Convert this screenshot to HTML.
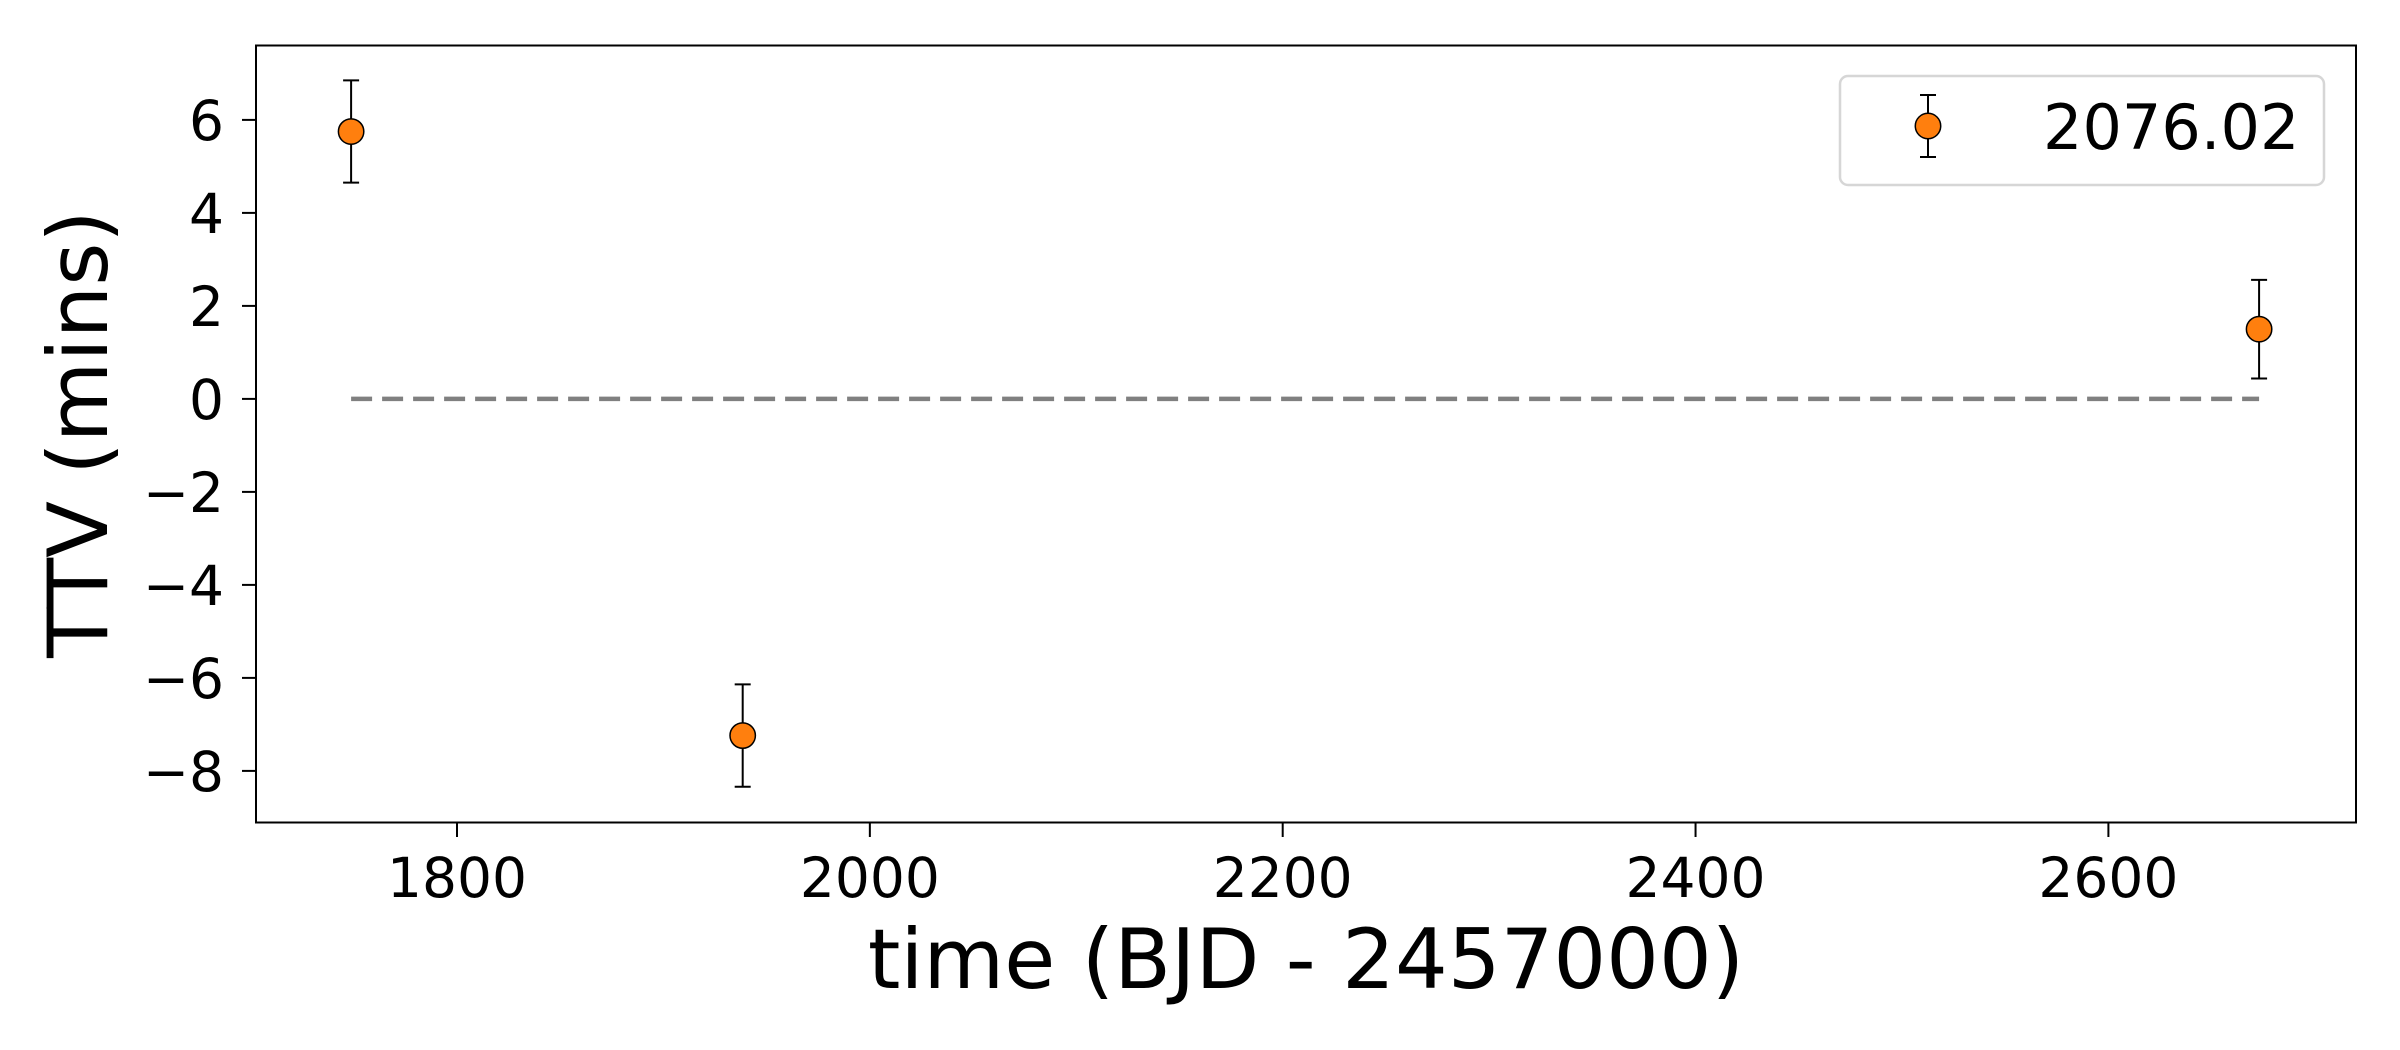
<!DOCTYPE html>
<html><head><meta charset="utf-8"><style>
html,body{margin:0;padding:0;background:#fff;}
svg{display:block;font-family:"DejaVu Sans","Liberation Sans",sans-serif;}
</style></head><body>
<svg id="chart" width="2400" height="1050" viewBox="0 0 2400 1050" xmlns="http://www.w3.org/2000/svg">
<rect x="0" y="0" width="2400" height="1050" fill="#fff"/>
<g id="axes"></g>
<g id="marks"></g>
<rect x="256" y="45.5" width="2100" height="777" fill="none" stroke="#000" stroke-width="2"/>
<g>
<rect x="1840" y="76" width="484" height="109" rx="8" fill="#fff" stroke="#d6d6d6" stroke-width="2.5"/>
<line x1="1928" y1="95" x2="1928" y2="157" stroke="#000" stroke-width="2"/>
<line x1="1920" y1="95" x2="1936" y2="95" stroke="#000" stroke-width="2"/>
<line x1="1920" y1="157" x2="1936" y2="157" stroke="#000" stroke-width="2"/>
<circle cx="1928" cy="126" r="12.7" fill="#ff7f0e" stroke="#000" stroke-width="1.5"/>
<text x="2043" y="149" font-size="62">2076.02</text>
</g>
<text x="1306" y="988" font-size="83" text-anchor="middle">time (BJD - 2457000)</text>
<text transform="translate(107,434) rotate(-90)" font-size="83" text-anchor="middle">TTV (mins)</text>
</svg>
<script>
const times = [1748.7, 1938.4, 2673.0];
const ttv = [5.75, -7.24, 1.50];
const errs = [1.1, 1.1, 1.06];
const xTicks = [1800, 2000, 2200, 2400, 2600];
const yTicks = [-8, -6, -4, -2, 0, 2, 4, 6];
const refLine = [0];

const NS = "http://www.w3.org/2000/svg";
function sx(v){ return 457 + (v - 1800) * (412.85 / 200); }
function sy(v){ return 398.9 - v * (93.0 / 2); }
function mk(tag, attrs, parent){
  const e = document.createElementNS(NS, tag);
  for (const k in attrs) e.setAttribute(k, attrs[k]);
  parent.appendChild(e);
  return e;
}
const axes = document.getElementById('axes');
const marks = document.getElementById('marks');
xTicks.forEach(t => {
  const l = mk('line', {x1: sx(t), x2: sx(t), y1: 822.5, y2: 837, stroke: '#000', 'stroke-width': 2}, axes);
  
  
  const tx = mk('text', {x: sx(t), y: 897, 'font-size': 55, 'text-anchor': 'middle'}, axes);
  tx.textContent = String(t);
  
  
});
yTicks.forEach(t => {
  const l = mk('line', {x1: 242, x2: 256, y1: sy(t), y2: sy(t), stroke: '#000', 'stroke-width': 2}, axes);
  
  
  const tx = mk('text', {x: 224, y: sy(t) + 20, 'font-size': 55, 'text-anchor': 'end'}, axes);
  tx.textContent = t < 0 ? '\u2212' + Math.abs(t) : String(t);
  
  
});
refLine.forEach(v => {
  const l = mk('line', {x1: sx(times[0]), x2: sx(times[times.length-1]), y1: sy(v), y2: sy(v), stroke: '#808080', 'stroke-width': 4.5, 'stroke-dasharray': '21 10'}, marks);
  
  
});
times.forEach((t, i) => {
  const x = sx(t), y = sy(ttv[i]), yt = sy(ttv[i] + errs[i]), yb = sy(ttv[i] - errs[i]);
  const g = mk('g', {}, marks);
  
  
  mk('line', {x1: x, x2: x, y1: yt, y2: yb, stroke: '#000', 'stroke-width': 2}, g);
  mk('line', {x1: x - 8, x2: x + 8, y1: yt, y2: yt, stroke: '#000', 'stroke-width': 2}, g);
  mk('line', {x1: x - 8, x2: x + 8, y1: yb, y2: yb, stroke: '#000', 'stroke-width': 2}, g);
  mk('circle', {cx: x, cy: y, r: 12.7, fill: '#ff7f0e', stroke: '#000', 'stroke-width': 1.5}, g);
});
</script>
</body></html>
